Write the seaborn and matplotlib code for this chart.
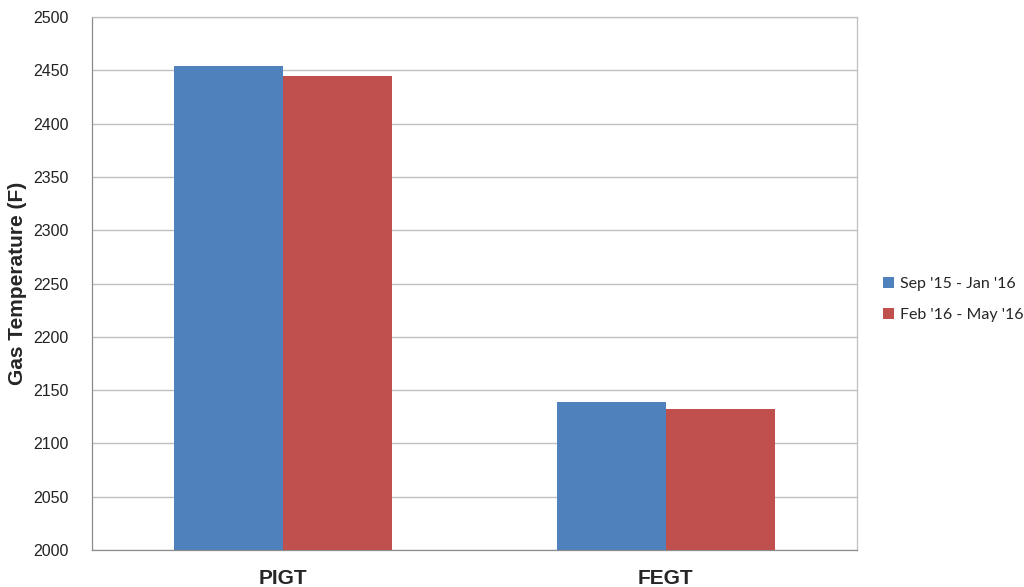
import seaborn as sns
import matplotlib.pyplot as plt
import pandas as pd

# Values
categories = ['PIGT', 'FEGT']
periods = ["Sep '15 - Jan '16", "Feb '16 - May '16"]
sep_jan = [2454.5, 2138.5]
feb_may = [2445, 2132]
colors = ['#4F81BD', '#C0504D']

data = pd.DataFrame({
    'Category': categories * 2,
    'Period': [periods[0]] * 2 + [periods[1]] * 2,
    'Temp': sep_jan + feb_may,
})

sns.set_style('white')
plt.rcParams['font.family'] = ['Liberation Sans', 'DejaVu Sans']

fig = plt.figure(figsize=(10.24, 5.87), dpi=100)
ax = fig.add_axes([92 / 1024, 1 - 550 / 587, (857 - 92) / 1024, (550 - 17) / 587])

sns.barplot(data=data, x='Category', y='Temp', hue='Period', order=categories,
            hue_order=periods, palette=colors, width=0.57, saturation=1,
            errorbar=None, ax=ax, zorder=3, linewidth=0)

ax.set_ylim(2000, 2500)
ax.set_xlim(-0.5, 1.5)
ax.set_yticks(range(2000, 2501, 50))
ax.grid(axis='y', color='#BFBFBF', linewidth=1, zorder=0)
ax.set_axisbelow(True)

for s in ax.spines.values():
    s.set_color('#8C8C8C')
    s.set_linewidth(0.9)
ax.spines['top'].set_color('#BFBFBF')
ax.spines['right'].set_color('#BFBFBF')

ax.tick_params(axis='y', which='major', direction='out', length=5, color='#8C8C8C',
               labelsize=11.5, pad=12, labelcolor='#222222')
ax.tick_params(axis='x', which='major', length=0, labelsize=15, pad=14)
ax.set_xticks([0.5], minor=True)
ax.tick_params(axis='x', which='minor', direction='out', length=5, color='#8C8C8C')
for lab in ax.get_xticklabels():
    lab.set_fontweight('bold')

ax.set_xlabel('')
ax.set_ylabel('Gas Temperature (F)', fontsize=15, fontweight='bold', labelpad=4)

ax.legend(loc='center left', bbox_to_anchor=(1.015, 0.47), frameon=False,
          prop={'family': ['Lato', 'DejaVu Sans'], 'size': 11.5},
          handlelength=0.7, handleheight=0.7, handletextpad=0.4, labelspacing=1.1)

fig.savefig('out.png', dpi=100)
